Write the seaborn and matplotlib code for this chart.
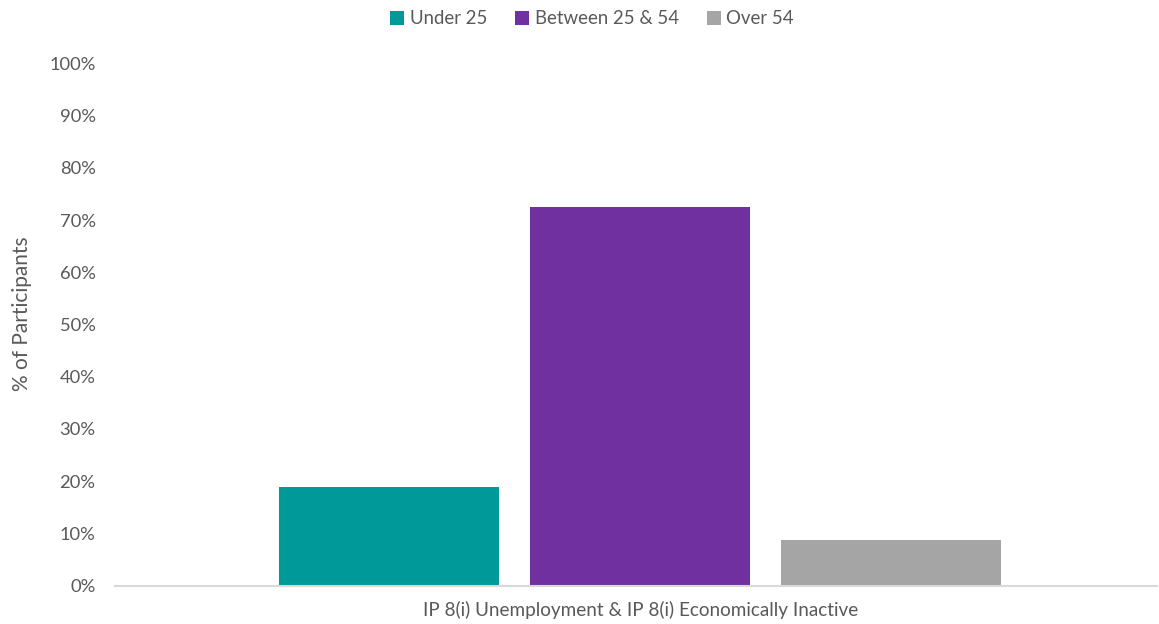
import matplotlib
matplotlib.use("Agg")
import matplotlib.pyplot as plt
import seaborn as sns
import pandas as pd
from matplotlib.ticker import FuncFormatter, MultipleLocator

categories = ["IP 8(i) Unemployment & IP 8(i) Economically Inactive"]
age_groups = ["Under 25", "Between 25 & 54", "Over 54"]
shares = [18.8, 72.5, 8.7]
colors = ["#009999", "#7030A0", "#A5A5A5"]

df = pd.DataFrame({
    "category": categories * len(age_groups),
    "group": age_groups,
    "share": shares,
})

sns.set_theme(style="white")
plt.rcParams["font.family"] = ["Lato", "DejaVu Sans"]
text_color = "#595959"

fig = plt.figure(figsize=(11.59, 6.24), dpi=100)
ax = fig.add_axes([115 / 1159, 1 - 585.5 / 624, 1042 / 1159, 522 / 624])

sns.barplot(data=df, x="category", y="share", hue="group", hue_order=age_groups,
            palette=colors, width=0.723, gap=0.124, saturation=1, ax=ax,
            edgecolor="none", linewidth=0, legend=True)

ax.set_ylim(0, 100)
ax.set_xlim(-0.5 - 0.004, 0.5 - 0.004)
ax.yaxis.set_major_locator(MultipleLocator(10))
ax.yaxis.set_major_formatter(FuncFormatter(lambda v, _: f"{v:.0f}%"))
ax.tick_params(axis="y", labelsize=13.2, colors=text_color, length=0, pad=14)
ax.tick_params(axis="x", labelsize=13.6, colors=text_color, length=0, pad=11)
ax.set_ylabel("% of Participants", fontsize=15, color=text_color)
ax.yaxis.set_label_coords(-0.080, 0.52)
ax.set_xlabel("")

for side in ["top", "right", "left"]:
    ax.spines[side].set_visible(False)
ax.spines["bottom"].set_color("#D9D9D9")
ax.spines["bottom"].set_linewidth(1.5)

handles, labels = ax.get_legend_handles_labels()
ax.get_legend().remove()
fig.legend(handles, labels, loc="center", bbox_to_anchor=(592 / 1159, 1 - 19 / 624),
           ncol=3, frameon=False, fontsize=13.4, labelcolor=text_color,
           handlelength=0.75, handleheight=0.75, handletextpad=0.3, columnspacing=1.5)

fig.savefig("out.png", dpi=100)
